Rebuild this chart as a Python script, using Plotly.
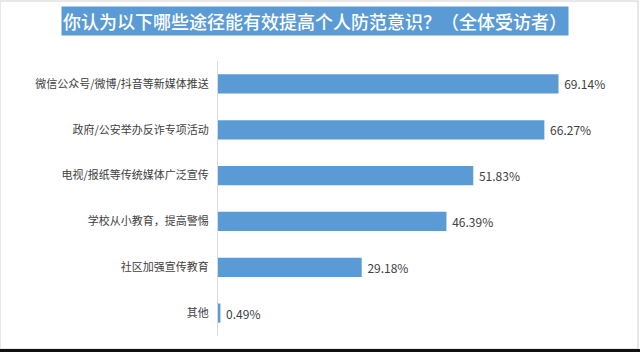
import plotly.graph_objects as go

categories = ["微信公众号/微博/抖音等新媒体推送", "政府/公安举办反诈专项活动", "电视/报纸等传统媒体广泛宣传",
              "学校从小教育，提高警惕", "社区加强宣传教育", "其他"]
values = [69.14, 66.27, 51.83, 46.39, 29.18, 0.49]
labels = [f" {v:.2f}%" for v in values]
title = "你认为以下哪些途径能有效提高个人防范意识？（全体受访者）"

FONT = "Noto Sans CJK SC"
fig = go.Figure(go.Bar(
    y=categories, x=values, orientation="h",
    marker=dict(color="#5b9bd5", line=dict(width=0)),
    text=labels, textposition="outside",
    textfont=dict(size=12, color="#404040", family=FONT),
    cliponaxis=False,
))
fig.update_layout(
    width=640, height=352,
    margin=dict(l=218, r=28, t=61, b=16),
    paper_bgcolor="white", plot_bgcolor="white",
    bargap=0.58, showlegend=False,
    font=dict(family=FONT),
    xaxis=dict(range=[0, 80], visible=False),
    yaxis=dict(autorange="reversed", showline=True, linecolor="#d9d9d9", linewidth=1,
               ticks="", showgrid=False, ticklabelstandoff=6,
               tickfont=dict(size=11, color="#404040", family=FONT)),
    annotations=[dict(text=title, xref="paper", yref="paper", x=(315 - 218) / 394, y=1 + (61 - 21) / 275,
                      xanchor="center", yanchor="middle", showarrow=False,
                      font=dict(size=18, color="white", family=FONT, weight=500),
                      bgcolor="#5b9bd5", borderpad=1)],
    shapes=[
        dict(type="rect", xref="paper", yref="paper", x0=-218 / 394, x1=1 + 26 / 394,
             y0=-(16 - 3) / 275, y1=1 + 60 / 275, line=dict(color="#d0d0d0", width=1), layer="below"),
        dict(type="rect", xref="paper", yref="paper", x0=-218 / 394, x1=1 + 28 / 394,
             y0=-16 / 275, y1=-(16 - 3) / 275, fillcolor="#111111", line=dict(width=0)),
    ],
)
fig.write_html("out.html")
